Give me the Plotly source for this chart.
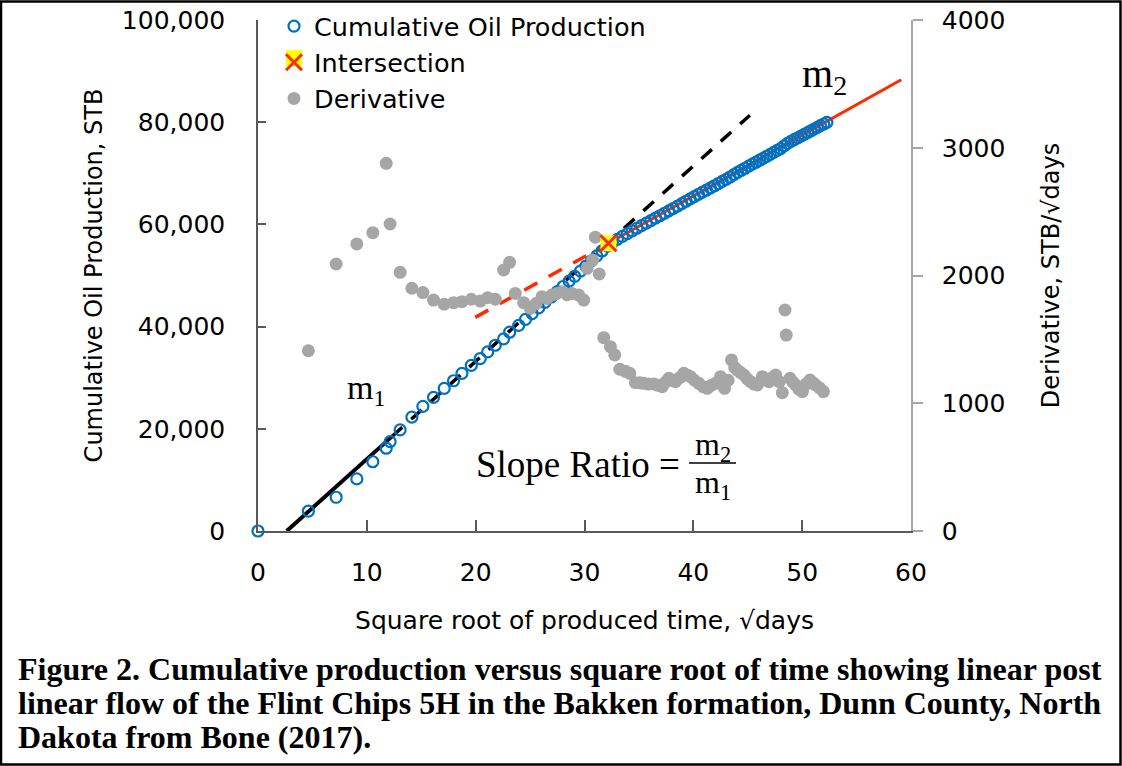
import plotly.graph_objects as go

# ---------------- data ----------------
sqrt_days = [0, 4.63, 7.18, 9.08, 10.55, 11.78, 12.14, 13.06, 14.14, 15.15, 16.13, 17.11, 17.97,
             18.74, 19.60, 20.42, 21.10, 21.80, 22.57, 23.12, 23.95, 24.58, 25.19, 25.79, 26.36,
             26.94, 27.50, 28.04, 28.58, 29.10, 29.63, 30.13, 30.63, 31.13, 31.61, 32.09, 32.56,
             33.02, 33.48, 33.93, 34.38, 34.81, 35.24, 35.68, 36.10, 36.52, 36.93, 37.34, 37.75,
             38.14, 38.55, 38.94, 39.32, 39.71, 40.09, 40.47, 40.84, 41.21, 41.58, 41.94, 42.31,
             42.66, 43.01, 43.37, 43.72, 44.07, 44.41, 44.74, 45.09, 45.42, 45.76, 46.09, 46.41,
             46.74, 47.06, 47.39, 47.71, 48.02, 48.34, 48.65, 48.97, 49.27, 49.58, 49.89, 50.19,
             50.50, 50.79, 51.09, 51.39, 51.68, 51.98, 52.27]
cum_oil = [0, 3900, 6600, 10200, 13550, 16200, 17500, 19800, 22300, 24400, 26150, 27900, 29400,
           30850, 32400, 33750, 35050, 36350, 37600, 38900, 40250, 41400, 42550, 43650, 44750,
           45800, 46850, 47850, 48900, 49850, 50850, 51850, 52850, 53850, 54800, 55750, 56430,
           57070, 57650, 58210, 58750, 59250, 59750, 60260, 60740, 61220, 61690, 62160, 62650,
           63110, 63590, 64060, 64530, 65000, 65450, 65890, 66310, 66720, 67140, 67560, 68000,
           68410, 68800, 69270, 69730, 70170, 70590, 70990, 71400, 71780, 72170, 72560, 72950,
           73340, 73710, 74110, 74500, 74840, 75380, 75860, 76240, 76580, 76940, 77280, 77610,
           77970, 78310, 78660, 79000, 79320, 79650, 79970]

deriv_x = [4.63, 7.18, 9.08, 10.55, 11.78, 12.14, 13.06, 14.14, 15.15, 16.13, 17.11, 17.97, 18.74,
           19.60, 20.42, 21.10, 21.80, 22.57, 23.12, 23.64, 24.41, 25.02, 25.55, 26.10, 26.55,
           27.00, 27.45, 27.94, 28.40, 28.86, 29.47, 29.93, 30.24, 30.75, 31.00, 31.35, 31.77,
           32.38, 32.78, 33.24, 33.75, 34.16, 34.68, 35.10, 35.45, 35.90, 36.37, 36.75, 37.14,
           37.45, 37.75, 38.05, 38.36, 38.75, 39.13, 39.45, 39.74, 40.10, 40.50, 40.90, 41.28,
           41.65, 42.04, 42.50, 42.87, 43.20, 43.51, 43.80, 44.04, 44.35, 44.65, 44.95, 45.26,
           45.58, 45.88, 46.34, 46.65, 46.95, 47.25, 47.56, 47.90, 48.18, 48.42, 48.54, 48.88,
           49.15, 49.40, 49.70, 50.02, 50.35, 50.72, 51.00, 51.24, 51.60, 51.95]
deriv_y = [1411, 2090, 2247, 2335, 2878, 2403, 2025, 1900, 1866, 1808, 1775, 1787, 1795,
           1814, 1800, 1826, 1814, 2043, 2103, 1860, 1787, 1743, 1780, 1834, 1820,
           1847, 1860, 1873, 1850, 1860, 1847, 1808, 2056, 2121, 2300, 2012, 1513,
           1443, 1378, 1266, 1250, 1234, 1161, 1160, 1156, 1150, 1151, 1140, 1130,
           1165, 1195, 1180, 1169, 1200, 1234, 1220, 1208, 1180, 1156, 1130, 1117,
           1140, 1156, 1208, 1117, 1180, 1339, 1280, 1260, 1240, 1221, 1190, 1169,
           1150, 1143, 1208, 1185, 1169, 1200, 1221, 1170, 1083, 1730, 1534, 1195,
           1165, 1143, 1110, 1091, 1150, 1182, 1160, 1143, 1120, 1091]

inter_x = [32.2]
inter_y = [56300]

m1_solid_x = [2.64, 12.3]
m1_solid_y = [0, 18470]
m1_dash_x = [12.3, 45.2]
m1_dash_y = [18470, 81370]
m2_dash_x = [19.96, 32.2]
m2_dash_y = [41800, 56300]
m2_solid_x = [32.2, 59.1]
m2_solid_y = [56300, 88300]

x_range = [0, 60]
y1_range = [0, 100000]
y2_range = [0, 4000]

caption_lines = [
    "Figure 2. Cumulative production versus square root of time showing linear post",
    "linear flow of the Flint Chips 5H in the Bakken formation, Dunn County, North",
    "Dakota from Bone (2017).",
]

# ---------------- layout geometry ----------------
W, H = 1122, 766
L, R, T, B = 258, 911, 20, 531


def px(x):
    return (x - L) / (R - L)


def py(y):
    return (B - y) / (B - T)


BLUE = "#0070C0"
GRAY = "#A6A6A6"
RED = "#FF2A00"
AX = "#595959"
SANS = "DejaVu Sans"
SERIF = "Liberation Serif"

fig = go.Figure()

# fit lines (primary axis)
fig.add_trace(go.Scatter(x=m1_solid_x, y=m1_solid_y, mode="lines", showlegend=False,
                         line=dict(color="black", width=4), hoverinfo="skip"))
fig.add_trace(go.Scatter(x=m1_dash_x, y=m1_dash_y, mode="lines", showlegend=False,
                         line=dict(color="black", width=3.5, dash="14px,12px"), hoverinfo="skip"))
fig.add_trace(go.Scatter(x=m2_dash_x, y=m2_dash_y, mode="lines", showlegend=False,
                         line=dict(color=RED, width=3.5, dash="15px,13px"), hoverinfo="skip"))
fig.add_trace(go.Scatter(x=m2_solid_x, y=m2_solid_y, mode="lines", showlegend=False,
                         line=dict(color=RED, width=3), hoverinfo="skip"))

# cumulative production
fig.add_trace(go.Scatter(x=sqrt_days, y=cum_oil, mode="markers", name="Cumulative Oil Production",
                         legendrank=1, cliponaxis=False,
                         marker=dict(symbol="circle-open", size=11, color=BLUE,
                                     line=dict(width=2.2, color=BLUE))))

# derivative (secondary axis)
fig.add_trace(go.Scatter(x=deriv_x, y=deriv_y, mode="markers", name="Derivative", yaxis="y2",
                         legendrank=3,
                         marker=dict(symbol="circle", size=13, color=GRAY)))

# intersection drawn on the secondary axis so it sits on top of everything
scale = (y2_range[1] - y2_range[0]) / (y1_range[1] - y1_range[0])
inter_y2 = [v * scale for v in inter_y]
fig.add_trace(go.Scatter(x=inter_x, y=inter_y2, mode="markers", yaxis="y2", showlegend=False,
                         marker=dict(symbol="square", size=16, color="#FFFF00"), hoverinfo="skip"))
fig.add_trace(go.Scatter(x=inter_x, y=inter_y2, mode="markers", yaxis="y2", name="Intersection",
                         legendrank=2,
                         marker=dict(symbol="x-thin", size=16, color=RED,
                                     line=dict(width=3, color=RED))))

tickfont = dict(family=SANS, size=25, color="black")
titlefont = dict(family=SANS, size=24, color="black")

LEG_FONT = 25.5
LEG_TOP = 3
fig.update_layout(
    width=W, height=H,
    margin=dict(l=L, r=W - R, t=T, b=H - B, autoexpand=False),
    paper_bgcolor="white", plot_bgcolor="white",
    showlegend=True,
    legend=dict(x=px(274), y=py(LEG_TOP), xanchor="left", yanchor="top",
                font=dict(family=SANS, size=LEG_FONT, color="black"),
                bgcolor="rgba(0,0,0,0)", tracegroupgap=0, itemwidth=30),
    xaxis=dict(range=x_range, dtick=10, tick0=0, showgrid=False, zeroline=False,
               showline=True, linecolor=AX, linewidth=1.5, ticks="inside", ticklen=11,
               tickcolor=AX, tickwidth=1.5, tickfont=tickfont, ticklabelstandoff=18,
               title=dict(text="Square root of produced time, √days",
                          font=dict(family=SANS, size=25, color="black"), standoff=26)),
    yaxis=dict(range=y1_range, dtick=20000, tick0=0, tickformat=",", showgrid=False,
               zeroline=False, showline=True, linecolor=AX, linewidth=1.5, ticks="inside",
               ticklen=8, tickcolor=AX, tickwidth=1.5, tickfont=tickfont, ticklabelstandoff=26,
               title=dict(text="Cumulative Oil Production, STB", font=titlefont, standoff=12)),
    yaxis2=dict(range=y2_range, dtick=1000, tick0=0, tickformat="d", overlaying="y",
                side="right", showgrid=False, zeroline=False, showline=True, linecolor=GRAY,
                linewidth=1.5, ticks="outside", ticklen=10, tickcolor=GRAY, tickwidth=1.5,
                tickfont=tickfont, ticklabelstandoff=14,
                title=dict(text="Derivative, STB/√days", font=titlefont, standoff=38)),
)

# text annotations
ann = [
    dict(text="m<sub>1</sub>", x=px(345), y=py(390), xanchor="left", yanchor="middle",
         font=dict(family=SERIF, size=34, color="black")),
    dict(text="m<sub>2</sub>", x=px(800), y=py(76), xanchor="left", yanchor="middle",
         font=dict(family=SERIF, size=40, color="black")),
    dict(text="Slope Ratio =", x=px(474), y=py(464), xanchor="left", yanchor="middle",
         font=dict(family=SERIF, size=37, color="black")),
    dict(text="m<sub>2</sub>", x=px(713), y=py(446), xanchor="center", yanchor="middle",
         font=dict(family=SERIF, size=32, color="black")),
    dict(text="m<sub>1</sub>", x=px(713), y=py(484), xanchor="center", yanchor="middle",
         font=dict(family=SERIF, size=32, color="black")),
]
for i, line in enumerate(caption_lines):
    ann.append(dict(text="<b>" + line + "</b>", x=px(16), y=py(669 + 34 * i),
                    xanchor="left", yanchor="middle", align="left",
                    font=dict(family=SERIF, size=32, color="black")))
for a in ann:
    a.update(xref="paper", yref="paper", showarrow=False)
fig.update_layout(annotations=ann)

# legend row geometry (plotly: row height = 1.3 * font + 3)
row_h = 1.3 * LEG_FONT + 3
icon_cy = LEG_TOP + row_h * 1.5 + 1
icon_cx = 274 + 20

# decorations: frame, fraction bar, yellow backdrop of the legend "Intersection" icon
fig.update_layout(shapes=[
    dict(type="rect", xref="paper", yref="paper", x0=px(1), x1=px(1120.5), y0=py(1.5), y1=py(764.5),
         line=dict(color="black", width=2.5), fillcolor="rgba(0,0,0,0)", layer="above"),
    dict(type="line", xref="paper", yref="paper", x0=px(689), x1=px(736), y0=py(463), y1=py(463),
         line=dict(color="black", width=1.5)),
    dict(type="rect", xref="paper", yref="paper", x0=px(icon_cx - 8), x1=px(icon_cx + 8),
         y0=py(icon_cy - 8), y1=py(icon_cy + 8),
         line=dict(width=0), fillcolor="#FFFF00", layer="above"),
])

fig.write_html("out.html")
